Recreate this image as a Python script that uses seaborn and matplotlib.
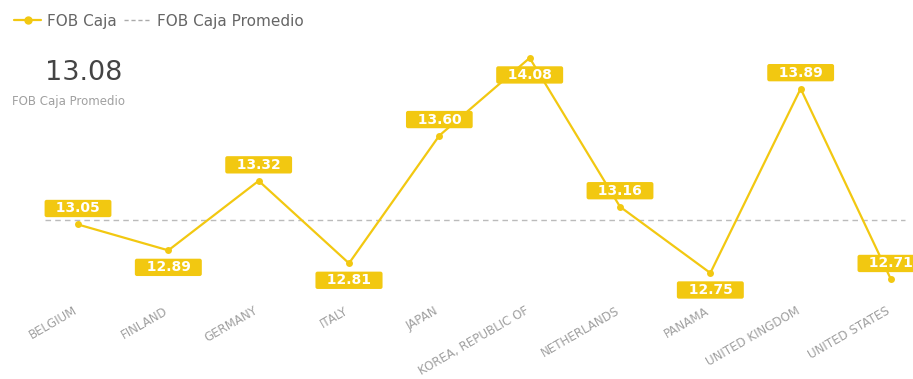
import pandas as pd
import matplotlib.pyplot as plt
import matplotlib.transforms as mtransforms
import seaborn as sns
from matplotlib.lines import Line2D

# datos
paises = ['BELGIUM', 'FINLAND', 'GERMANY', 'ITALY', 'JAPAN', 'KOREA, REPUBLIC OF',
          'NETHERLANDS', 'PANAMA', 'UNITED KINGDOM', 'UNITED STATES']
fob_caja = [13.05, 12.89, 13.32, 12.81, 13.60, 14.08, 13.16, 12.75, 13.89, 12.71]
promedio = 13.08
# etiqueta arriba (1) o abajo (-1) del punto
pos_etiqueta = [1, -1, 1, -1, 1, -1, 1, -1, 1, 1]

amarillo = '#F2C811'
gris = '#A0A0A0'

sns.set_style('white')
plt.rcParams['font.family'] = ['DejaVu Sans']

df = pd.DataFrame({'pais': paises, 'fob': fob_caja})

fig = plt.figure(figsize=(9.13, 3.79), dpi=100)
ax = fig.add_axes([0, 1 - 300 / 379, 1, 260 / 379])

sns.lineplot(data=df, x='pais', y='fob', ax=ax, color=amarillo, linewidth=1.6,
             marker='o', markersize=5, markeredgewidth=0, sort=False)
ax.axhline(promedio, color='#BBBBBB', linestyle=(0, (4, 3)), linewidth=1,
           xmin=45 / 913, xmax=905 / 913, zorder=1)

for i, (v, p) in enumerate(zip(fob_caja, pos_etiqueta)):
    off = 16 if p > 0 else -17
    ax.annotate(f'  {v:.2f}  ', (i, v), xytext=(0, off), textcoords='offset pixels',
                ha='center', va='center', color='white', fontsize=10, fontweight='bold',
                bbox=dict(boxstyle='round,pad=0.12,rounding_size=0.15', fc=amarillo, ec='none'),
                zorder=5, annotation_clip=False)

ax.set_xlim(-78 / 90.33, 9 + 22 / 90.33)
ax.set_ylim(12.583, 14.191)
ax.set_xlabel('')
ax.set_ylabel('')
ax.set_yticks([])
ax.tick_params(axis='x', length=0, pad=3, labelsize=8.6, labelcolor=gris)
desplazar = mtransforms.ScaledTranslation(-5 / 100, 0, fig.dpi_scale_trans)
for lbl in ax.get_xticklabels():
    lbl.set_rotation(30)
    lbl.set_ha('right')
    lbl.set_rotation_mode('anchor')
    lbl.set_transform(lbl.get_transform() + desplazar)
sns.despine(ax=ax, left=True, bottom=True)

# leyenda
handles = [Line2D([], [], color=amarillo, marker='o', markersize=5, linewidth=1.6),
           Line2D([], [], color='#AAAAAA', linestyle=(0, (3, 2)), linewidth=1)]
fig.legend(handles, ['FOB Caja', 'FOB Caja Promedio'], loc='upper left',
           bbox_to_anchor=(0.0, 1.0), ncol=2, frameon=False, fontsize=11,
           labelcolor='#666666', handlelength=1.8, handletextpad=0.35, columnspacing=0.5)

# tarjeta
fig.text(84 / 913, 1 - 73 / 379, f'{promedio:.2f}', ha='center', va='center',
         fontsize=19.5, color='#444444')
fig.text(12 / 913, 1 - 101 / 379, 'FOB Caja Promedio', ha='left', va='center',
         fontsize=8.5, color='#A0A0A0')

fig.savefig('out.png', dpi=100)
